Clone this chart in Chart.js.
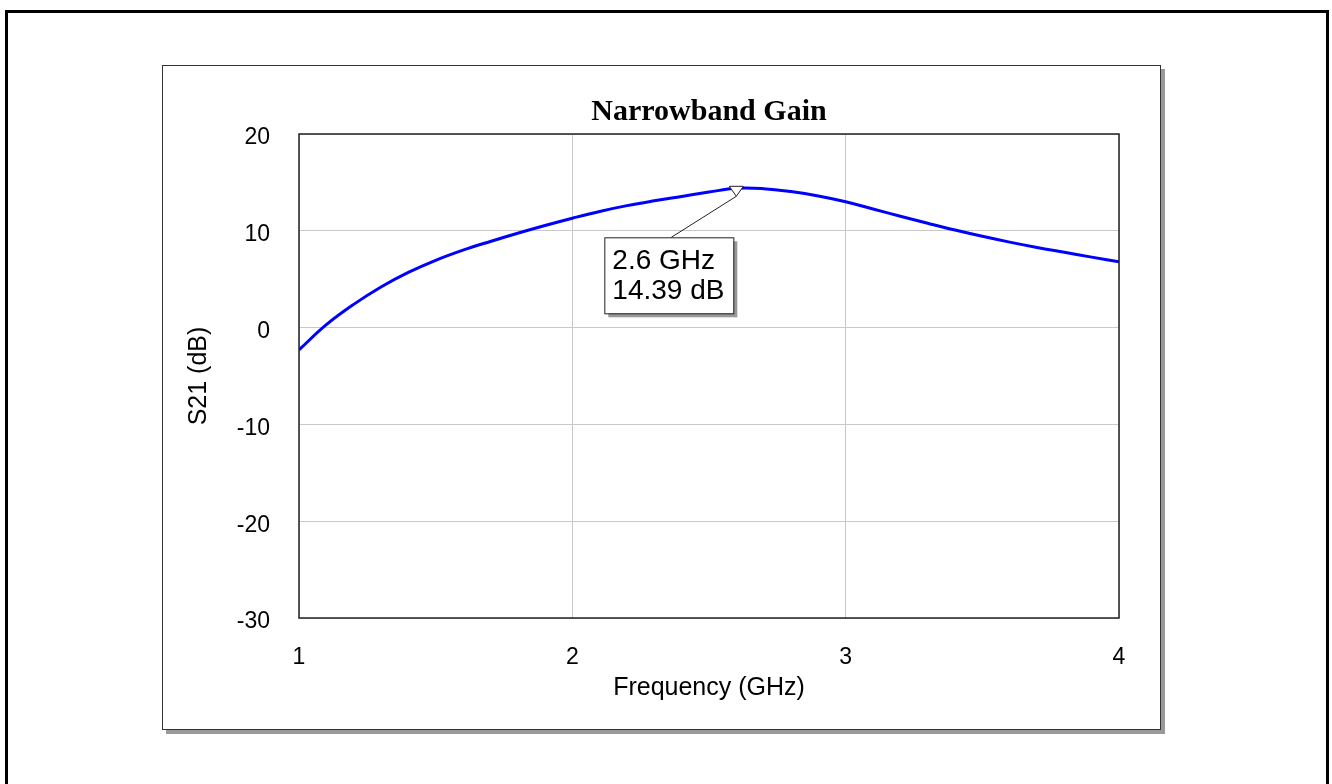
<!DOCTYPE html>
<html>
<head>
<meta charset="utf-8">
<title>Narrowband Gain</title>
<script src="https://cdn.jsdelivr.net/npm/chart.js@4.4.1/dist/chart.umd.min.js"></script>
<style>
  html, body { margin: 0; padding: 0; background: #fff; overflow: hidden; }
  #frame {
    position: absolute; left: 5px; top: 10px; width: 1318px; height: 800px;
    border: 3px solid #000;
  }
  #panel {
    position: absolute; left: 162px; top: 65px; width: 997px; height: 663px;
    border: 1px solid #333; background: #fff;
    box-shadow: 4px 4px 0 #999;
  }
  #panel canvas { position: absolute; left: 0; top: 0; }
</style>
</head>
<body>
<div id="frame"></div>
<div id="panel"><canvas id="gainChart" width="997" height="663"></canvas></div>
<script>
// frequency sweep (GHz) and measured S21 (dB)
const freqGHz = [1.0, 1.1, 1.2, 1.3, 1.4, 1.5, 1.6, 1.7, 1.8, 1.9, 2.0,
  2.1, 2.2, 2.3, 2.4, 2.5, 2.6, 2.7, 2.8, 2.9, 3.0,
  3.1, 3.2, 3.3, 3.4, 3.5, 3.6, 3.7, 3.8, 3.9, 4.0];
const s21dB = [-2.3, 0.3, 2.4, 4.2, 5.7, 6.95, 8.0, 8.9, 9.75, 10.55, 11.3,
  12.0, 12.6, 13.1, 13.55, 14.0, 14.39, 14.35, 14.05, 13.6, 13.0,
  12.25, 11.5, 10.78, 10.08, 9.43, 8.83, 8.28, 7.78, 7.28, 6.8];
const xTicks = [1, 2, 3, 4];
const yTicks = [-30, -20, -10, 0, 10, 20];

// marker shown on the trace
const markerFreq = 2.6;
const markerGain = 14.39;
const markerLines = ["2.6 GHz", "14.39 dB"];

const points = freqGHz.map((f, i) => ({ x: f, y: s21dB[i] }));

const frameAndMarker = {
  id: "frameAndMarker",
  afterDatasetsDraw(chart) {
    const ctx = chart.ctx;
    const a = chart.chartArea;
    ctx.save();
    ctx.strokeStyle = "#222";
    ctx.lineWidth = 1.5;
    ctx.strokeRect(a.left, a.top, a.right - a.left, a.bottom - a.top);

    const px = chart.scales.x.getPixelForValue(markerFreq);
    const py = chart.scales.y.getPixelForValue(markerGain);

    // box with shadow
    const bx = px - 132, by = py + 49, bw = 129, bh = 76;
    ctx.fillStyle = "#999";
    ctx.fillRect(bx + 4, by + 4, bw, bh);
    ctx.fillStyle = "#fff";
    ctx.fillRect(bx, by, bw, bh);
    ctx.strokeStyle = "#222";
    ctx.lineWidth = 1;
    ctx.strokeRect(bx + 0.5, by + 0.5, bw, bh);

    // leader line
    ctx.beginPath();
    ctx.moveTo(bx + 67, by);
    ctx.lineTo(px, py + 8);
    ctx.stroke();

    // triangle marker
    ctx.beginPath();
    ctx.moveTo(px - 7, py - 2);
    ctx.lineTo(px + 7, py - 2);
    ctx.lineTo(px, py + 8);
    ctx.closePath();
    ctx.fillStyle = "#fff";
    ctx.fill();
    ctx.stroke();

    ctx.fillStyle = "#000";
    ctx.font = "28px 'Liberation Sans', Arial, sans-serif";
    ctx.textBaseline = "middle";
    ctx.textAlign = "left";
    ctx.fillText(markerLines[0], bx + 8, by + 24);
    ctx.fillText(markerLines[1], bx + 8, by + 54);
    ctx.restore();
  }
};

new Chart(document.getElementById("gainChart").getContext("2d"), {
  type: "line",
  data: {
    datasets: [{
      data: points,
      borderColor: "#0000ff",
      borderWidth: 3,
      pointRadius: 0,
      tension: 0.4,
      fill: false
    }]
  },
  options: {
    responsive: false,
    animation: false,
    layout: { padding: { left: 0, top: 0, right: 41, bottom: 0 } },
    plugins: {
      legend: { display: false },
      tooltip: { enabled: false },
      title: {
        display: true,
        fullSize: false,
        text: "Narrowband Gain",
        color: "#000",
        font: { family: "'Liberation Serif', 'Times New Roman', serif", size: 30, weight: "bold", lineHeight: 1.2 },
        padding: { top: 28, bottom: 4 }
      }
    },
    scales: {
      x: {
        type: "linear",
        min: 1,
        max: 4,
        afterFit: (s) => { s.height = 111; },
        afterBuildTicks: (s) => { s.ticks = xTicks.map((v) => ({ value: v })); },
        grid: { color: "#c8c8c8", lineWidth: 1, drawTicks: false },
        border: { display: false },
        ticks: {
          color: "#000",
          padding: 26,
          maxRotation: 0,
          font: { family: "'Liberation Sans', Arial, sans-serif", size: 23 }
        },
        title: {
          display: true,
          text: "Frequency (GHz)",
          color: "#000",
          font: { family: "'Liberation Sans', Arial, sans-serif", size: 25 },
          padding: { top: 0, bottom: 26 }
        }
      },
      y: {
        min: -30,
        max: 20,
        afterFit: (s) => { s.width = 136; },
        afterBuildTicks: (s) => { s.ticks = yTicks.map((v) => ({ value: v })); },
        grid: { color: "#c8c8c8", lineWidth: 1, drawTicks: false },
        border: { display: false },
        ticks: {
          color: "#000",
          padding: 29,
          labelOffset: 4,
          font: { family: "'Liberation Sans', Arial, sans-serif", size: 23 }
        },
        title: {
          display: true,
          text: "S21 (dB)",
          color: "#000",
          font: { family: "'Liberation Sans', Arial, sans-serif", size: 25 },
          padding: { top: 21, bottom: 0 }
        }
      }
    }
  },
  plugins: [frameAndMarker]
});
</script>
</body>
</html>
